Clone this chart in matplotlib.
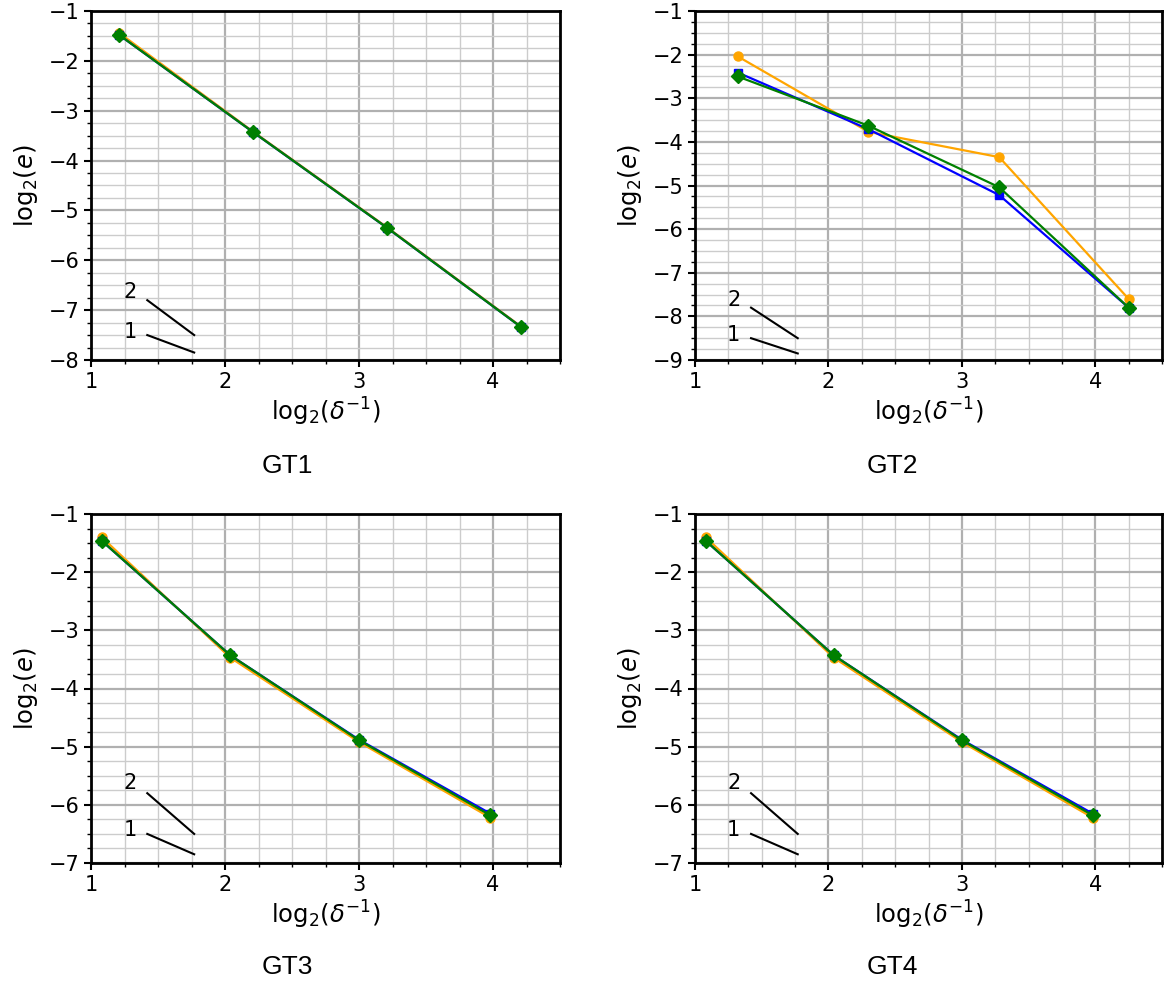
import matplotlib
matplotlib.use("Agg")
import matplotlib.pyplot as plt
from matplotlib.ticker import MultipleLocator

plt.rcParams["mathtext.fontset"] = "dejavusans"

# ---- data ----
titles = ["GT1", "GT2", "GT3", "GT4"]

x_gt1 = [1.21, 2.21, 3.21, 4.21]
orange_gt1 = [-1.44, -3.42, -5.34, -7.33]
blue_gt1 = [-1.48, -3.43, -5.35, -7.34]
green_gt1 = [-1.48, -3.43, -5.35, -7.34]

x_gt2 = [1.32, 2.30, 3.28, 4.25]
orange_gt2 = [-2.04, -3.77, -4.35, -7.60]
blue_gt2 = [-2.41, -3.71, -5.22, -7.80]
green_gt2 = [-2.50, -3.63, -5.04, -7.80]

x_gt3 = [1.08, 2.04, 3.00, 3.98]
orange_gt3 = [-1.40, -3.47, -4.92, -6.22]
blue_gt3 = [-1.46, -3.43, -4.88, -6.15]
green_gt3 = [-1.46, -3.43, -4.89, -6.18]

x_gt4 = [1.08, 2.04, 3.00, 3.98]
orange_gt4 = [-1.40, -3.47, -4.92, -6.22]
blue_gt4 = [-1.46, -3.43, -4.88, -6.15]
green_gt4 = [-1.46, -3.43, -4.89, -6.18]

ylims = [(-8, -1), (-9, -1), (-7, -1), (-7, -1)]
xlim = (1, 4.5)

series = [
    (x_gt1, orange_gt1, blue_gt1, green_gt1),
    (x_gt2, orange_gt2, blue_gt2, green_gt2),
    (x_gt3, orange_gt3, blue_gt3, green_gt3),
    (x_gt4, orange_gt4, blue_gt4, green_gt4),
]

W, H = 1164, 992
fig = plt.figure(figsize=(W / 100, H / 100), dpi=100)

# axes boxes in pixels: left, top, right, bottom
boxes = [(91, 11, 560, 360), (695, 11, 1162, 360),
         (91, 514, 560, 863), (695, 514, 1162, 863)]
caption_pos = [(287, 466), (892, 466), (287, 967), (892, 967)]

for i, (box, (xs, yo, yb, yg), yl) in enumerate(zip(boxes, series, ylims)):
    l, t, r, b = box
    ax = fig.add_axes([l / W, 1 - b / H, (r - l) / W, (b - t) / H])
    ax.set_xlim(*xlim)
    ax.set_ylim(*yl)
    ax.xaxis.set_major_locator(MultipleLocator(1))
    ax.yaxis.set_major_locator(MultipleLocator(1))
    ax.xaxis.set_minor_locator(MultipleLocator(0.25))
    ax.yaxis.set_minor_locator(MultipleLocator(0.25))
    ax.grid(which="major", color="#b0b0b0", linewidth=1.6, zorder=0)
    ax.grid(which="minor", color="#cccccc", linewidth=1.0, zorder=0)
    ax.set_axisbelow(True)
    for sp in ax.spines.values():
        sp.set_linewidth(2.0)
    ax.tick_params(which="major", labelsize=15, length=5, width=1.5)
    ax.tick_params(which="minor", length=3, width=1.0)

    ax.plot(xs, yo, color="orange", marker="o", markersize=6.5, linewidth=1.6, zorder=3)
    ax.plot(xs, yb, color="blue", marker="s", markersize=5.5, linewidth=1.6, zorder=4)
    ax.plot(xs, yg, color="green", marker="D", markersize=7, linewidth=1.6, zorder=5)

    # slope indicators
    ymin = yl[0]
    x0, x1 = 1.42, 1.77
    ax.plot([x0, x1], [ymin + 1.2, ymin + 1.2 - 2 * (x1 - x0)], color="black", linewidth=1.5, zorder=6)
    ax.plot([x0, x1], [ymin + 0.5, ymin + 0.5 - (x1 - x0)], color="black", linewidth=1.5, zorder=6)
    ax.text(1.29, ymin + 1.37, "2", fontsize=15, ha="center", va="center", zorder=7)
    ax.text(1.29, ymin + 0.57, "1", fontsize=15, ha="center", va="center", zorder=7)

    ax.set_xlabel(r"$\mathrm{log}_2(\delta^{-1})$", fontsize=17.5, labelpad=3)
    ax.set_ylabel(r"$\mathrm{log}_2(e)$", fontsize=17.5, labelpad=6)

    cx, cy = caption_pos[i]
    fig.text(cx / W, 1 - cy / H, titles[i], fontsize=19, family="Liberation Sans",
             ha="center", va="center")

fig.savefig("out.png", dpi=100)
